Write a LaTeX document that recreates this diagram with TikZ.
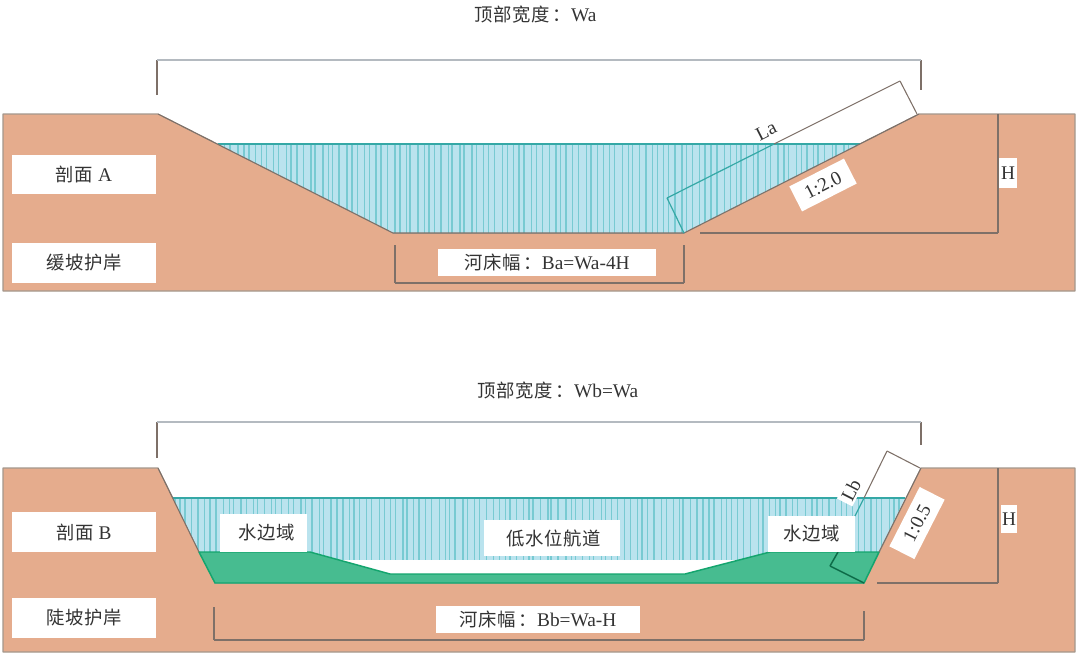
\documentclass[tikz,border=0pt]{standalone}
\usepackage{fontspec}
\setmainfont{Liberation Serif}
\newfontfamily\cjk{Noto Sans CJK SC}[Scale=0.95,LetterSpace=3]
\definecolor{ground}{HTML}{E5AC8D}
\definecolor{groundline}{HTML}{A3978C}
\definecolor{water}{HTML}{BAE3EE}
\definecolor{stripe}{HTML}{78CAD2}
\definecolor{tealline}{HTML}{35A8A6}
\definecolor{bank}{HTML}{47BC90}
\definecolor{bankline}{HTML}{14A56E}
\definecolor{dimline}{HTML}{7E7068}
\definecolor{dimtop}{HTML}{B4BAC0}
\tikzstyle{soil}=[fill=ground,draw=groundline,line width=0.8pt,line join=round]
\tikzstyle{pool}=[fill=water,draw=none]
\tikzstyle{dim}=[draw=dimline,line width=0.8pt]
\tikzstyle{dim1}=[draw=dimtop,line width=1.1pt]
\tikzstyle{greyedge}=[draw=dimline,line width=0.8pt]
\tikzstyle{tealedge}=[draw=tealline,line width=0.9pt]
\tikzstyle{greenedge}=[draw=bankline,line width=1.1pt]
\tikzstyle{every node}+=[font=\fontsize{14.5}{16}\selectfont,text=black!80,inner sep=0pt]
\tikzstyle{tag}=[fill=white]
\newcommand{\drawdims}[2][dim]{
	\foreach \a/\b in {#2}{
		\draw[#1] (\a) -- (\b);
	}
}
\newcommand{\drawstripes}[3]{
	\pgfmathsetseed{#3}
	\foreach \x in {#1}{
		\pgfmathsetmacro{\sx}{\x+3*rnd}
		\pgfmathsetmacro{\sw}{0.5+1.0*rnd}
		\draw[stripe,line width=\sw pt] (\sx,#2) -- (\sx,600);
	}
}
\newcommand{\cn}[1]{{\cjk #1}}
\newcommand{\colonmark}{\hspace{2.2pt}\cn{：}}
\begin{document}
\begin{tikzpicture}[x=0.75pt,y=-0.75pt]
\useasboundingbox (0,0) rectangle (1080,660);
% top section, gentle slope
\coordinate (gl1) at (3,114);
\coordinate (gs1) at (158,114);
\coordinate (bl1) at (393,233);
\coordinate (br1) at (684,233);
\coordinate (gs2) at (919,114);
\coordinate (gr1) at (1075,114);
\draw[soil] (gl1) -- (gs1) -- (bl1) -- (br1) -- (gs2) -- (gr1) -- (1075,291) -- (3,291) -- cycle;
\begin{scope}
\clip (218,144) -- (860,144) -- (br1) -- (bl1) -- cycle;
\fill[pool] (150,144) rectangle (900,240);
\drawstripes{218,224,...,860}{144}{7}
\end{scope}
\draw[tealedge] (218,144) -- (860,144);
\draw[greyedge] (gs1) -- (bl1) -- (br1) -- (gs2);
\coordinate (wa1) at (157,95);
\coordinate (wa2) at (157,60);
\coordinate (wa3) at (921,60);
\coordinate (wa4) at (921,90);
\drawdims{wa1/wa2,wa3/wa4}
\drawdims[dim1]{wa2/wa3}
\coordinate (la1) at (667,198);
\coordinate (la2) at (774,144);
\coordinate (la3) at (900,81);
\coordinate (la4) at (917,114);
\drawdims[tealedge]{br1/la1,la1/la2}
\drawdims[greyedge]{la2/la3,la3/la4}
\coordinate (ha1) at (700,233);
\coordinate (ha2) at (998,233);
\coordinate (ha3) at (998,114);
\drawdims{ha1/ha2,ha2/ha3}
\coordinate (ba1) at (395,245);
\coordinate (ba2) at (395,283);
\coordinate (ba3) at (684,283);
\coordinate (ba4) at (684,245);
\drawdims{ba1/ba2,ba2/ba3,ba3/ba4}
\node (titlea) at (535.5,15) {\cn{顶部宽度}\colonmark Wa};
\node[tag,minimum width=108pt,minimum height=29pt] (seca) at (84,174.5) {\cn{剖面} A\hspace{3pt}};
\node[tag,minimum width=108pt,minimum height=30pt] (banka) at (84,263) {\cn{缓坡护岸}\hspace{7pt}};
\node[tag,minimum width=163.5pt,minimum height=20pt] (beda) at (547,262.5) {\cn{河床幅}\colonmark Ba=Wa-4H\hspace{9pt}};
\node[rotate=27] (la) at (766,131) {La};
\node[tag,minimum width=46pt,minimum height=21pt,rotate=27] (slopea) at (823,185) {1:2.0};
\node[tag,minimum width=13pt,minimum height=23pt] (ha) at (1008,173) {H};
% bottom section, steep slope
\coordinate (gl2) at (3,468);
\coordinate (gs3) at (158,468);
\coordinate (bl2) at (215,583);
\coordinate (br2) at (864,583);
\coordinate (gs4) at (921,468);
\coordinate (gr2) at (1075,468);
\draw[soil] (gl2) -- (gs3) -- (bl2) -- (br2) -- (gs4) -- (gr2) -- (1075,652) -- (3,652) -- cycle;
\begin{scope}
\clip (173,498) -- (905,498) -- (br2) -- (bl2) -- cycle;
\fill[pool] (150,498) rectangle (920,590);
\drawstripes{173,179,...,905}{498}{11}
\end{scope}
\fill[white] (335,560) -- (745,560) -- (685,578) -- (390,578) -- cycle;
\coordinate (ga1) at (199,552);
\coordinate (ga2) at (310,552);
\coordinate (ga3) at (390,574);
\coordinate (ga4) at (685,574);
\coordinate (ga5) at (770,552);
\coordinate (ga6) at (879,552);
\draw[greenedge,fill=bank] (ga1) -- (ga2) -- (ga3) -- (ga4) -- (ga5) -- (ga6) -- (br2) -- (bl2) -- cycle;
\draw[tealedge] (173,498) -- (905,498);
\draw[greyedge] (gs3) -- (ga1);
\draw[greyedge] (ga6) -- (gs4);
\coordinate (wb1) at (157,458);
\coordinate (wb2) at (157,422);
\coordinate (wb3) at (921,422);
\coordinate (wb4) at (921,445);
\drawdims{wb1/wb2,wb3/wb4}
\drawdims[dim1]{wb2/wb3}
\coordinate (lb1) at (838,552);
\coordinate (lb2) at (830,566);
\coordinate (lb3) at (855,516);
\coordinate (lb4) at (864,498);
\coordinate (lb5) at (887,451);
\coordinate (lb6) at (920,468);
\drawdims[greenedge,draw=black!35!bankline]{lb1/lb2,lb2/br2}
\drawdims[tealedge]{lb3/lb4}
\drawdims[greyedge]{lb4/lb5,lb5/lb6}
\coordinate (hb1) at (877,583);
\coordinate (hb2) at (998,583);
\coordinate (hb3) at (998,468);
\drawdims{hb1/hb2,hb2/hb3}
\coordinate (bb1) at (214,607);
\coordinate (bb2) at (214,640);
\coordinate (bb3) at (864,640);
\coordinate (bb4) at (864,611);
\drawdims{bb1/bb2,bb2/bb3,bb3/bb4}
\node (titleb) at (558,391) {\cn{顶部宽度}\colonmark Wb=Wa};
\node[tag,minimum width=108pt,minimum height=30pt] (secb) at (84,532) {\cn{剖面} B\hspace{3pt}};
\node[tag,minimum width=108pt,minimum height=30pt] (bankb) at (84,618) {\cn{陡坡护岸}\hspace{3.5pt}};
\node[tag,minimum width=65pt,minimum height=28.5pt] (edgel) at (263.5,533) {\hspace{5pt}\cn{水边域}};
\node[tag,minimum width=65pt,minimum height=27pt] (edger) at (811.5,534) {\cn{水边域}};
\node[tag,minimum width=102pt,minimum height=27pt] (channel) at (552,538) {\hspace{3pt}\cn{低水位航道}};
\node[tag,minimum width=153pt,minimum height=20pt] (bedb) at (538,619.5) {\cn{河床幅}\colonmark Bb=Wa-H};
\node[tag,minimum width=21pt,minimum height=13pt,rotate=63] (lb) at (851,490) {Lb};
\node[tag,minimum width=50pt,minimum height=21pt,rotate=63] (slopeb) at (917,523) {1:0.5};
\node[tag,minimum width=12pt,minimum height=21pt] (hb) at (1009,519) {H};
\end{tikzpicture}
\end{document}
